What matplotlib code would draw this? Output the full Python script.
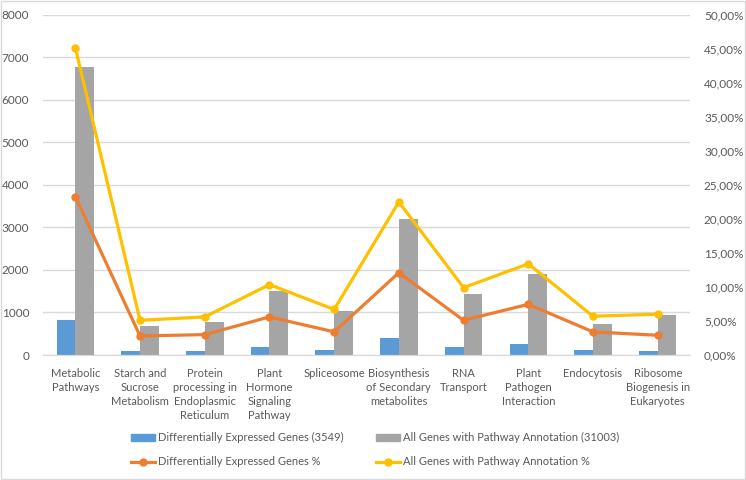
import matplotlib
matplotlib.use("Agg")
import matplotlib.pyplot as plt
import numpy as np
from matplotlib.patches import Patch, Rectangle
from matplotlib.lines import Line2D

categorias = [
    "Metabolic\nPathways",
    "Starch and\nSucrose\nMetabolism",
    "Protein\nprocessing in\nEndoplasmic\nReticulum",
    "Plant\nHormone\nSignaling\nPathway",
    "Spliceosome",
    "Biosynthesis\nof Secondary\nmetabolites",
    "RNA\nTransport",
    "Plant\nPathogen\nInteraction",
    "Endocytosis",
    "Ribosome\nBiogenesis in\nEukaryotes",
]
deg_genes = [833, 94, 90, 181, 110, 409, 188, 252, 110, 87]
all_genes = [6780, 692, 776, 1499, 1035, 3209, 1428, 1899, 739, 941]
deg_pct = [23.3, 2.8, 3.0, 5.6, 3.4, 12.1, 5.1, 7.45, 3.4, 2.9]
all_pct = [45.2, 5.1, 5.6, 10.35, 6.7, 22.5, 9.9, 13.4, 5.7, 6.0]

AZUL = "#5B9BD5"
CINZA = "#A5A5A5"
LARANJA = "#ED7D31"
AMARELO = "#FFC000"
TEXTO = "#595959"

plt.rcParams["font.family"] = ["Lato", "DejaVu Sans"]

fig = plt.figure(figsize=(7.46, 4.8), dpi=100)
ax = fig.add_axes([0.0576, 0.2604, 0.8674, 0.7086])
ax2 = ax.twinx()

x = np.arange(len(categorias))
largura = 0.29
ax.bar(x - largura / 2, deg_genes, width=largura, color=AZUL, zorder=2)
ax.bar(x + largura / 2, all_genes, width=largura, color=CINZA, zorder=2)

ax2.plot(x, deg_pct, color=LARANJA, lw=2.3, marker="o", ms=5)
ax2.plot(x, all_pct, color=AMARELO, lw=2.3, marker="o", ms=5)

ax.set_xlim(-0.5, len(categorias) - 0.5)
ax.set_ylim(0, 8000)
ax.set_yticks(range(0, 8001, 1000))
ax2.set_ylim(0, 50)
ax2.set_yticks(range(0, 51, 5))
ax2.set_yticklabels([f"{v:.2f}%".replace(".", ",") for v in range(0, 51, 5)])

ax.set_xticks(x)
ax.set_xticklabels(categorias, fontsize=8, color=TEXTO, linespacing=1.35)
ax.tick_params(axis="x", length=0, pad=9)
ax.tick_params(axis="y", length=0, labelsize=8.5, colors=TEXTO, pad=10)
ax2.tick_params(axis="y", length=0, labelsize=8.5, colors=TEXTO, pad=10)

ax.grid(axis="y", color="#d9d9d9", lw=1, zorder=0)
ax.set_axisbelow(True)
for a in (ax, ax2):
    for lado in ("top", "left", "right"):
        a.spines[lado].set_visible(False)
    a.spines["bottom"].set_color("#d9d9d9")

handles = [
    Patch(color=AZUL),
    Line2D([], [], color=LARANJA, lw=2.3, marker="o", ms=5),
    Patch(color=CINZA),
    Line2D([], [], color=AMARELO, lw=2.3, marker="o", ms=5),
]
rotulos = [
    "Differentially Expressed Genes (3549)",
    "Differentially Expressed Genes %",
    "All Genes with Pathway Annotation (31003)",
    "All Genes with Pathway Annotation %",
]
fig.legend(handles, rotulos, ncol=2, loc="center", bbox_to_anchor=(0.503, 0.063),
           frameon=False, fontsize=8, labelcolor=TEXTO, handlelength=2.2,
           handleheight=0.6, columnspacing=2.9, handletextpad=0.25, labelspacing=1.2)

fig.patches.append(Rectangle((0.002, 0.002), 0.996, 0.996, transform=fig.transFigure,
                             fill=False, edgecolor="#d9d9d9", lw=1))

plt.savefig("out.png", dpi=100)
